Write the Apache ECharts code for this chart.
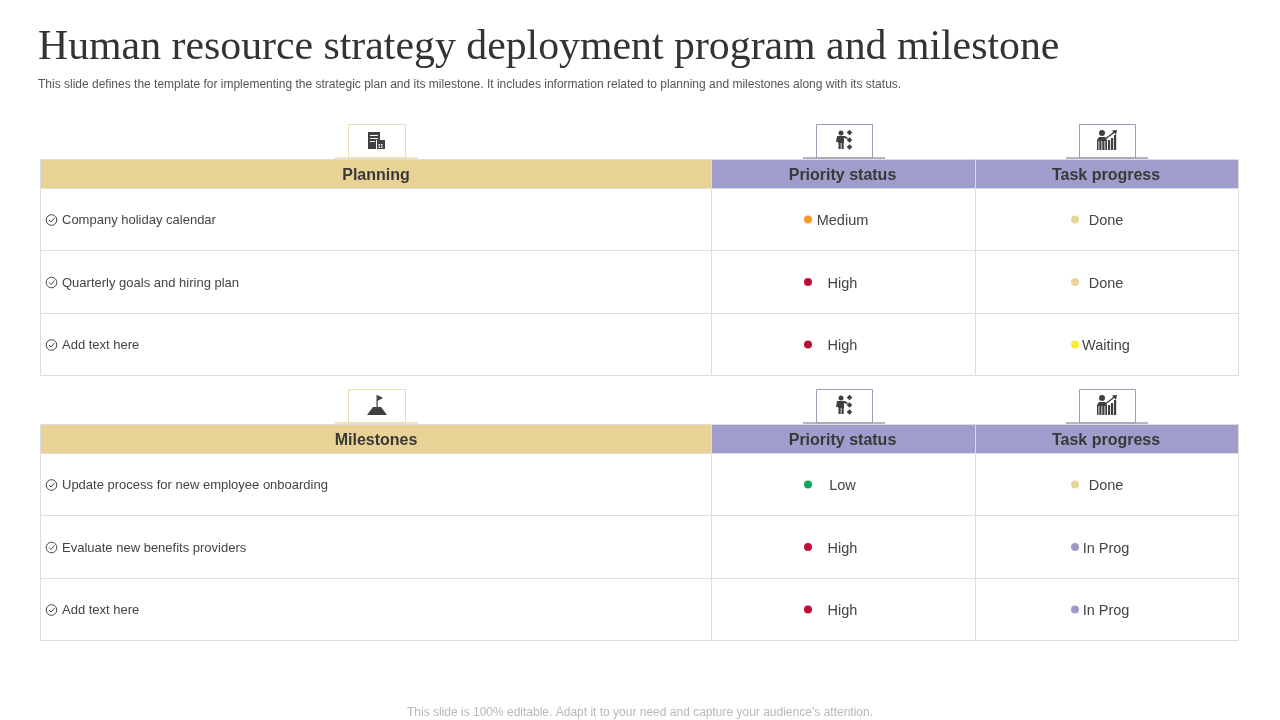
<!DOCTYPE html>
<html>
<head>
<meta charset="utf-8">
<title>Human resource strategy deployment program and milestone</title>
<script src="https://cdn.jsdelivr.net/npm/echarts@6/dist/echarts.min.js"></script>
<style>
  html, body { margin: 0; padding: 0; background: #fff; }
  #chart { width: 1280px; height: 720px; }
</style>
</head>
<body>
<div id="chart"></div>
<script>
// Table contents
const planningHeaders = ['Planning', 'Priority status', 'Task progress'];
const planningItems = ['Company holiday calendar', 'Quarterly goals and hiring plan', 'Add text here'];
const planningPriority = ['Medium', 'High', 'High'];
const planningProgress = ['Done', 'Done', 'Waiting'];

const milestoneHeaders = ['Milestones', 'Priority status', 'Task progress'];
const milestoneItems = ['Update process for new employee onboarding', 'Evaluate new benefits providers', 'Add text here'];
const milestonePriority = ['Low', 'High', 'High'];
const milestoneProgress = ['Done', 'In Prog', 'In Prog'];

// Layout (axis units = px inside each table)
const colEdges = [0, 671, 935, 1198];
const rowEdges = [0, 29, 91, 154, 216];
const tableTops = [159.5, 424.5];

const statusColors = {
  Medium: '#F39A2B', High: '#C00D3A', Low: '#10A55A',
  Done: '#E6D69C', Waiting: '#F5EE30', 'In Prog': '#9D9BC9'
};
const GOLD = '#E8D296', PURPLE = '#9F9DCB', LINE = '#DCDCDC', INK = '#444444';
const FONT = '"Liberation Sans", Arial, sans-serif';

const makeRenderCell = (headers, items, priority, progress) => (params, api) => {
  const c = api.value(0), r = api.value(1);
  const tl = api.coord([colEdges[c], rowEdges[r]]);
  const br = api.coord([colEdges[c + 1], rowEdges[r + 1]]);
  const cy = (tl[1] + br[1]) / 2;
  const children = [{
    type: 'rect',
    shape: { x: tl[0], y: tl[1], width: br[0] - tl[0], height: br[1] - tl[1] },
    style: { fill: r === 0 ? (c === 0 ? GOLD : PURPLE) : '#fff', stroke: LINE, lineWidth: 1 }
  }];
  if (r === 0) {
    children.push({
      type: 'text',
      style: {
        x: (tl[0] + br[0]) / 2 - (c === 0 ? 0 : 1), y: cy + 2, text: headers[c],
        fill: '#3A3838', font: 'bold 16px ' + FONT, align: 'center', verticalAlign: 'middle'
      }
    });
  } else if (c === 0) {
    // circled tick in front of the item
    const iy = cy + 0.5;
    children.push({
      type: 'circle',
      shape: { cx: tl[0] + 11, cy: iy, r: 5.3 },
      style: { fill: 'none', stroke: INK, lineWidth: 1 }
    }, {
      type: 'polyline',
      shape: { points: [[tl[0] + 8.5, iy], [tl[0] + 10.5, iy + 2], [tl[0] + 14, iy - 2]] },
      style: { fill: 'none', stroke: INK, lineWidth: 1 }
    }, {
      type: 'text',
      style: {
        x: tl[0] + 21.5, y: cy + 1, text: items[r - 1],
        fill: INK, font: '13px ' + FONT, align: 'left', verticalAlign: 'middle'
      }
    });
  } else {
    children.push({
      type: 'text',
      style: {
        x: (tl[0] + br[0]) / 2 - 1, y: cy + 1.5, text: (c === 1 ? priority : progress)[r - 1],
        fill: INK, font: '14.5px ' + FONT, align: 'center', verticalAlign: 'middle'
      }
    });
  }
  return { type: 'group', children };
};

const cellData = [];
for (let r = 0; r < 4; r++) for (let c = 0; c < 3; c++) cellData.push([c, r]);

const dotData = (priority, progress) => {
  const pts = [];
  [priority, progress].forEach((vals, i) => {
    vals.forEach((v, r) => {
      pts.push({
        value: [i === 0 ? 767.5 : 1034.5, (rowEdges[r + 1] + rowEdges[r + 2]) / 2],
        itemStyle: { color: statusColors[v], opacity: 1 }
      });
    });
  });
  return pts;
};

// Small icon tabs above the header row
const tab = (x, w, bx, bw, y, color, icon) => ({
  type: 'group',
  children: [
    { type: 'rect', shape: { x, y, width: w, height: 33.5 }, style: { fill: '#fff', stroke: color, lineWidth: 1 } },
    { type: 'line', shape: { x1: bx, y1: y + 33.5, x2: bx + bw, y2: y + 33.5 }, style: { stroke: color, lineWidth: 1.5 } }
  ].concat(icon)
});

const dark = '#404040';
const box = (x, y, width, height, fill) => ({ type: 'rect', shape: { x, y, width, height }, style: { fill: fill || dark } });
const diamond = (cx, cy, r) => ({ type: 'polygon', shape: { points: [[cx - r, cy], [cx, cy - r], [cx + r, cy], [cx, cy + r]] }, style: { fill: dark } });
const dot = (cx, cy, r) => ({ type: 'circle', shape: { cx, cy, r }, style: { fill: dark } });

const buildingIcon = y => [
  box(368, y + 8, 12, 17), box(370, y + 11, 8, 1, '#fff'), box(370, y + 14, 8, 1, '#fff'), box(370, y + 17, 5, 1, '#fff'),
  box(376, y + 16, 9, 9, '#fff'), box(377, y + 16, 8, 9), box(378.5, y + 20, 1.5, 1.5, '#fff'), box(381, y + 20, 1.5, 1.5, '#fff'),
  box(378.5, y + 22.5, 1.5, 1.5, '#fff'), box(381, y + 22.5, 1.5, 1.5, '#fff')
];
const flagIcon = y => [
  { type: 'polygon', shape: { points: [[367, y + 26], [373, y + 18], [381, y + 18], [387, y + 26]] }, style: { fill: dark } },
  box(376.5, y + 6, 1.2, 13),
  { type: 'polygon', shape: { points: [[377.5, y + 6], [383, y + 9], [377.5, y + 12]] }, style: { fill: dark } }
];
const personIcon = (x, y) => [
  dot(x + 4, y + 9, 2.5), box(x + 1, y + 12, 6, 7), box(x + 1.5, y + 18, 2.2, 7), box(x + 4.5, y + 18, 2.2, 7),
  { type: 'polygon', shape: { points: [[x, y + 12], [x + 8, y + 12], [x + 11, y + 14], [x + 10, y + 15], [x + 7, y + 14], [x + 1, y + 18], [x - 1, y + 18]] }, style: { fill: dark } },
  diamond(x + 12.5, y + 8.5, 2.8), diamond(x + 12.5, y + 16, 2.8), diamond(x + 12.5, y + 23, 2.8)
];
const growthIcon = (x, y) => [
  dot(x + 5, y + 9, 3),
  { type: 'polygon', shape: { points: [[x, y + 16], [x + 2, y + 13], [x + 8, y + 13], [x + 10, y + 16], [x + 10, y + 26], [x, y + 26]] }, style: { fill: dark } },
  box(x + 1.5, y + 17, 0.8, 9, '#fff'), box(x + 4.5, y + 17, 0.8, 9, '#fff'), box(x + 7.5, y + 17, 0.8, 9, '#fff'),
  box(x + 11, y + 16, 2.2, 10), box(x + 14, y + 14, 2.2, 12), box(x + 17, y + 11, 2.2, 15),
  { type: 'polyline', shape: { points: [[x + 8, y + 15], [x + 15, y + 10], [x + 18, y + 7]] }, style: { fill: 'none', stroke: dark, lineWidth: 1.5 } },
  { type: 'polygon', shape: { points: [[x + 15, y + 6.5], [x + 20, y + 6], [x + 19, y + 11]] }, style: { fill: dark } }
];

const GOLD_LINE = '#E8DDB5', GRAY_LINE = '#9D9DB5';
const option = {
  animation: false,
  backgroundColor: '#fff',
  title: [
    { text: 'Human resource strategy deployment program and milestone', left: 38, top: 27, padding: 0,
      textStyle: { fontFamily: '"Liberation Serif", serif', fontWeight: 'normal', fontSize: 41.8, color: '#333333' } },
    { text: 'This slide defines the template for implementing the strategic plan and its milestone. It includes information related to planning and milestones along with its status.', left: 38, top: 79, padding: 0,
      textStyle: { fontFamily: FONT, fontWeight: 'normal', fontSize: 12, color: '#555555' } },
    { text: 'This slide is 100% editable. Adapt it to your need and capture your audience\u2019s attention.', left: 'center', top: 707, padding: 0,
      textStyle: { fontFamily: FONT, fontWeight: 'normal', fontSize: 12, color: '#B8B8B8' } }
  ],
  grid: tableTops.map(top => ({ left: 40.5, top, width: 1198, height: 216 })),
  xAxis: tableTops.map((t, i) => ({ type: 'value', gridIndex: i, min: 0, max: 1198, show: false })),
  yAxis: tableTops.map((t, i) => ({ type: 'value', gridIndex: i, min: 0, max: 216, inverse: true, show: false })),
  series: [
    { type: 'custom', xAxisIndex: 0, yAxisIndex: 0, data: cellData, clip: false,
      renderItem: makeRenderCell(planningHeaders, planningItems, planningPriority, planningProgress) },
    { type: 'custom', xAxisIndex: 1, yAxisIndex: 1, data: cellData, clip: false,
      renderItem: makeRenderCell(milestoneHeaders, milestoneItems, milestonePriority, milestoneProgress) },
    { type: 'scatter', xAxisIndex: 0, yAxisIndex: 0, symbolSize: 8, z: 5, data: dotData(planningPriority, planningProgress) },
    { type: 'scatter', xAxisIndex: 1, yAxisIndex: 1, symbolSize: 8, z: 5, data: dotData(milestonePriority, milestoneProgress) }
  ],
  graphic: [
    tab(348.5, 57, 335, 83, 124.5, GOLD_LINE, buildingIcon(124)),
    tab(816.5, 56, 803, 82, 124.5, GRAY_LINE, personIcon(837, 124)),
    tab(1079.5, 56, 1066, 82, 124.5, GRAY_LINE, growthIcon(1097, 124)),
    tab(348.5, 57, 335, 83, 389.5, GOLD_LINE, flagIcon(389)),
    tab(816.5, 56, 803, 82, 389.5, GRAY_LINE, personIcon(837, 389)),
    tab(1079.5, 56, 1066, 82, 389.5, GRAY_LINE, growthIcon(1097, 389))
  ]
};

const chart = echarts.init(document.getElementById('chart'));
chart.setOption(option);
window.addEventListener('resize', () => chart.resize());
</script>
</body>
</html>
